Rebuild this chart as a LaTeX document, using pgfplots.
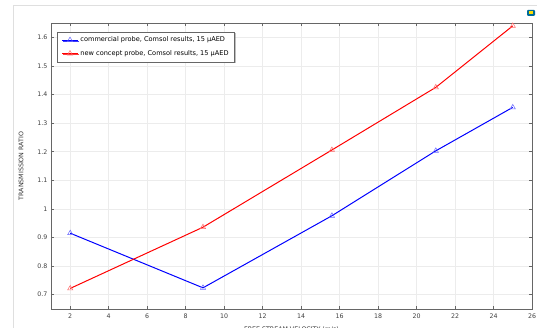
\documentclass[border=0pt]{standalone}
\usepackage{pgfplots}
\pgfplotsset{compat=1.18}
\usepackage{fontspec}
\setmainfont{DejaVu Sans}
\usetikzlibrary{shadows,calc}
\begin{document}
\begin{tikzpicture}
\begin{axis}[
  name=ax,
  scale only axis, width=481bp, height=286bp,
  xmin=1, xmax=26, ymin=0.65, ymax=1.65,
  xtick={2,4,...,26}, ytick={0.7,0.8,...,1.6},
  yticklabel style={/pgf/number format/fixed,/pgf/number format/precision=1},
  /pgf/number format/assume math mode=true,
  tick label style={font=\fontsize{6.3}{7}\selectfont, text=black!75},
  xticklabel style={yshift=-1.5bp},
  label style={font=\fontsize{6.3}{7}\selectfont, text=black!80},
  xlabel={FREE STREAM VELOCITY (m/s)},
  ylabel={TRANSMISSION RATIO},
  xlabel style={at={(axis description cs:0.5,0)}, anchor=north, yshift=-14bp},
  ylabel style={at={(axis description cs:0,0.5)}, yshift=24bp},
  grid=major, major grid style={gray!15, line width=0.5bp},
  axis line style={gray!80!black, line width=0.7bp},
  tick style={gray!80!black, line width=0.5bp},
  tick align=inside, major tick length=3bp,
  legend style={at={(0.013,0.97)}, anchor=north west, font=\fontsize{6.6}{8}\selectfont,
    draw=gray!80!black, line width=0.5bp, fill=white, drop shadow={shadow xshift=1.2bp, shadow yshift=-1.2bp, opacity=0.5},
    row sep=3bp, inner xsep=4bp, inner ysep=3bp},
  legend image code/.code={\draw[#1] (0bp,0bp) -- (16bp,0bp); \draw[#1, mark repeat=2, mark phase=2] plot coordinates {(0bp,0bp) (8bp,0bp) (16bp,0bp)};},
  legend cell align=left,
]
\addplot[blue, line width=1bp, mark=triangle, mark size=3bp, mark options={blue!60, line width=0.5bp}]
  coordinates {(2,0.915) (8.9,0.724) (15.6,0.976) (21,1.203) (25,1.355)};
\addlegendentry{commercial probe, Comsol results, 15 µAED}
\addplot[red, line width=1bp, mark=triangle, mark size=3bp, mark options={red!60, line width=0.5bp}]
  coordinates {(2,0.722) (8.9,0.936) (15.6,1.206) (21,1.425) (25,1.64)};
\addlegendentry{new concept probe, Comsol results, 15 µAED}
\end{axis}
\pgfresetboundingbox
\coordinate (O) at ($(ax.south west)+(-51bp,-19bp)$);
\path[use as bounding box] (O) rectangle ++(537bp,328bp);
\begin{scope}[shift={(O)}, x=1bp, y=1bp]
\draw[gray!25, line width=0.8bp] (13,0) -- (13,323) -- (537,323);
\fill[blue!30!cyan!60!black, rounded corners=1bp] (527,312) rectangle (535,318);
\fill[yellow!80!orange] (529,313.5) rectangle (533,316.5);
\end{scope}
\end{tikzpicture}
\end{document}
